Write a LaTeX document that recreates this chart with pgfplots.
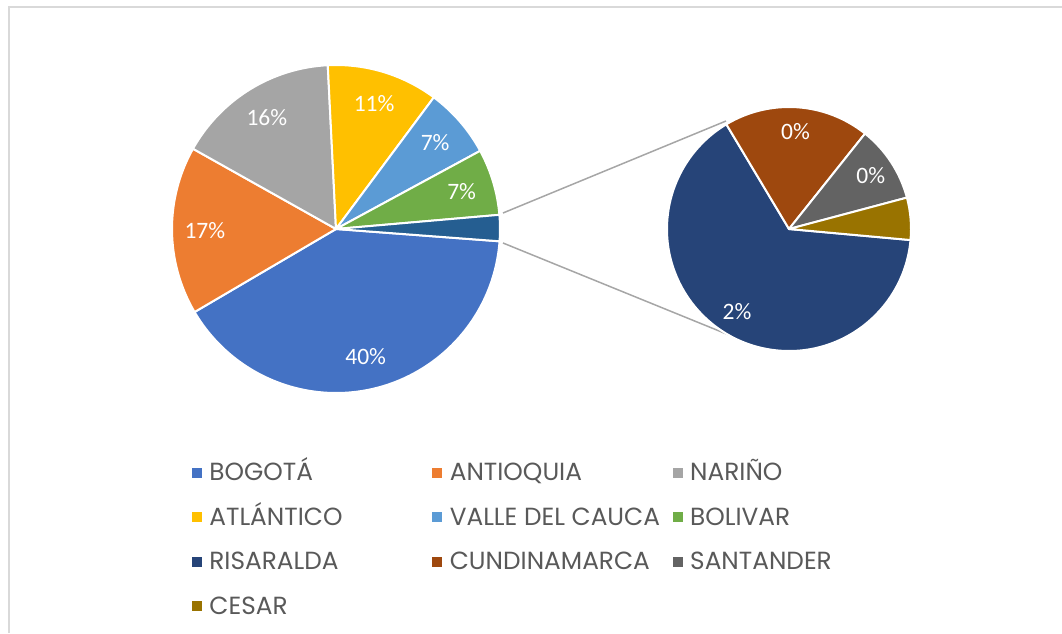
\documentclass[border=0pt]{standalone}
\usepackage{pgfplots}
\pgfplotsset{compat=1.18}
\usepackage{pgfplotstable}
\usepackage{fontspec}
\setmainfont{Poppins}
\newfontfamily\labfont{Carlito}
\newcommand\labstyle{\labfont\fontsize{23.5}{23.5}\selectfont}
\definecolor{cBogota}{HTML}{4472C4}
\definecolor{cAntioquia}{HTML}{ED7D31}
\definecolor{cNarino}{HTML}{A5A5A5}
\definecolor{cAtlantico}{HTML}{FFC000}
\definecolor{cValle}{HTML}{5B9BD5}
\definecolor{cBolivar}{HTML}{70AD47}
\definecolor{cOtros}{HTML}{255E91}
\definecolor{cRisaralda}{HTML}{264478}
\definecolor{cCundinamarca}{HTML}{9E480E}
\definecolor{cSantander}{HTML}{636363}
\definecolor{cCesar}{HTML}{997300}
\definecolor{cText}{HTML}{595959}
\definecolor{cFrame}{HTML}{D9D9D9}
\definecolor{cLine}{HTML}{A6A6A6}

% primary pie (last row = sum of secondary pie)
\pgfplotstableread{
value color show
309   cBogota 1
127   cAntioquia 1
123   cNarino 1
84    cAtlantico 1
53    cValle 1
50    cBolivar 1
19.7  cOtros 0
}\primary
% secondary pie
\pgfplotstableread{
value color show
12.8  cRisaralda 1
3.8   cCundinamarca 1
2.0   cSantander 1
1.1   cCesar 0
}\secondary
\def\total{765.7}

\pgfplotsset{sq/.style={legend image code/.code={\fill[#1] (0pt,-2.5pt) rectangle (9pt,6.5pt);}}}

% #1 table, #2 cx, #3 cy, #4 radius, #5 start angle, #6 sum of values
\newcommand\drawpie[6]{%
  \pgfplotstablegetrowsof{#1}\pgfmathtruncatemacro\nrows{\pgfplotsretval-1}%
  \edef\cumang{#5}%
  \pgfplotsforeachungrouped \i in {0,...,\nrows}{%
    \pgfplotstablegetelem{\i}{value}\of#1\let\val\pgfplotsretval
    \pgfplotstablegetelem{\i}{color}\of#1\let\col\pgfplotsretval
    \pgfplotstablegetelem{\i}{show}\of#1\let\shw\pgfplotsretval
    \pgfmathsetmacro\endang{\cumang-\val/#6*360}%
    \pgfmathsetmacro\midang{(\cumang+\endang)/2}%
    \pgfmathtruncatemacro\pct{round(\val/\total*100)}%
    \pgfmathsetmacro\lx{#2+0.8*#4*cos(\midang)}%
    \pgfmathsetmacro\ly{#3+0.8*#4*sin(\midang)}%
    \edef\cmd{\noexpand\fill[\col, draw=white, line width=2pt, line join=round]
      (axis cs:#2,#3) -- ++(\cumang:#4pt) arc[start angle=\cumang, end angle=\endang, radius=#4pt] -- cycle;}%
    \cmd
    \ifnum\shw=1
      \edef\cmd{\noexpand\node[text=white, font=\noexpand\labstyle, inner sep=0pt] at (axis cs:\lx,\ly) {\pct\noexpand\%};}%
      \cmd
    \fi
    \global\let\cumang\endang
  }%
}

\begin{document}
\begin{tikzpicture}
\begin{axis}[
  scale only axis, width=1062pt, height=633pt,
  xmin=0, xmax=1062, ymin=0, ymax=633,
  hide axis, clip=false,
  legend columns=3,
  legend style={draw=none, fill=none, inner sep=0pt, outer sep=0pt,
    at={(axis cs:192,168.5)}, anchor=north west,
    font=\fontsize{24.8}{24.8}\selectfont, text=cText,
    nodes={inner sep=0pt, text height=16pt, text depth=4pt},
    row sep=24.5pt,
    /tikz/every odd column/.append style={column sep=8pt},
    /tikz/every even column/.append style={column sep=0pt}},
  legend cell align=left,
]
% frame
\draw[cFrame, line width=1.5pt] (axis cs:9,0) -- (axis cs:9,626) -- (axis cs:1062,626);
% connector lines
\addplot[cLine, line width=1.5pt, forget plot] coordinates {(503,420) (726,512)};
\addplot[cLine, line width=1.5pt, forget plot] coordinates {(503,390) (729,298)};

\drawpie{\primary}{336}{404}{164}{-4.3}{765.7}
\drawpie{\secondary}{789}{404}{122}{-5.2}{19.7}

\addlegendimage{sq=cBogota}\addlegendentry{\makebox[223pt][l]{BOGOTÁ}}
\addlegendimage{sq=cAntioquia}\addlegendentry{\makebox[223pt][l]{ANTIOQUIA}}
\addlegendimage{sq=cNarino}\addlegendentry{\makebox[223pt][l]{NARIÑO}}
\addlegendimage{sq=cAtlantico}\addlegendentry{\makebox[223pt][l]{ATLÁNTICO}}
\addlegendimage{sq=cValle}\addlegendentry{\makebox[223pt][l]{VALLE DEL CAUCA}}
\addlegendimage{sq=cBolivar}\addlegendentry{\makebox[223pt][l]{BOLIVAR}}
\addlegendimage{sq=cRisaralda}\addlegendentry{\makebox[223pt][l]{RISARALDA}}
\addlegendimage{sq=cCundinamarca}\addlegendentry{\makebox[223pt][l]{CUNDINAMARCA}}
\addlegendimage{sq=cSantander}\addlegendentry{\makebox[223pt][l]{SANTANDER}}
\addlegendimage{sq=cCesar}\addlegendentry{\makebox[223pt][l]{CESAR}}
\end{axis}
\pgfresetboundingbox
\path[use as bounding box] (0,0) rectangle (1062pt,633pt);
\end{tikzpicture}
\end{document}
